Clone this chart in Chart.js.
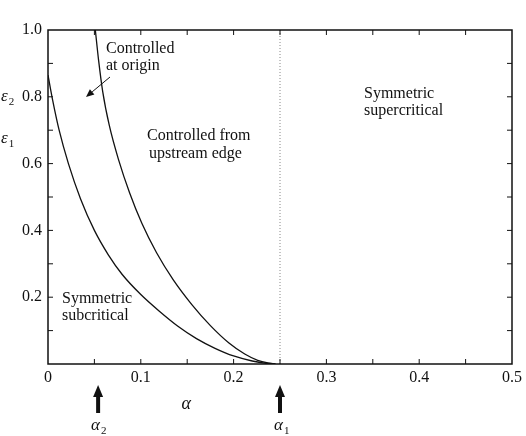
<!DOCTYPE html>
<html>
<head>
<meta charset="utf-8">
<script src="https://cdn.jsdelivr.net/npm/chart.js@4.4.1/dist/chart.umd.min.js"></script>
<style>
  body { margin: 0; background: #fff; }
  canvas { display: block; }
</style>
</head>
<body>
<canvas id="regimeChart" width="526" height="436"></canvas>
<script>
'use strict';

// boundary curves
var alphaInner = [0, 0.005, 0.012, 0.022, 0.035, 0.050, 0.065, 0.080, 0.100, 0.120, 0.140, 0.160, 0.180, 0.200, 0.220, 0.235, 0.245];
var epsInner   = [0.865, 0.790, 0.700, 0.600, 0.495, 0.400, 0.327, 0.268, 0.208, 0.158, 0.113, 0.076, 0.047, 0.024, 0.009, 0.002, 0];
var alphaOuter = [0.051, 0.0545, 0.059, 0.066, 0.076, 0.088, 0.101, 0.117, 0.135, 0.155, 0.175, 0.195, 0.212, 0.226, 0.237, 0.245];
var epsOuter   = [1.000, 0.910, 0.815, 0.715, 0.612, 0.512, 0.422, 0.333, 0.252, 0.178, 0.115, 0.063, 0.030, 0.011, 0.003, 0];

// critical values marked under the axis
var alpha1 = 0.25;
var alpha2 = 0.054;

// tick labels and tick marks
var xTickLabels = [0, 0.1, 0.2, 0.3, 0.4, 0.5];
var yTickLabels = [0.2, 0.4, 0.6, 0.8, 1.0];
var xTickMarks = [0.05, 0.1, 0.15, 0.2, 0.25, 0.3, 0.35, 0.4, 0.45];
var yTickMarks = [0.1, 0.2, 0.3, 0.4, 0.5, 0.6, 0.7, 0.8, 0.9];

var serif = "'Liberation Serif', 'DejaVu Serif', serif";

function toPoints(xs, ys) {
    var pts = [];
    for (var i = 0; i < xs.length; i++) {
        pts.push({ x: xs[i], y: ys[i] });
    }
    return pts;
}

// draws arrow with filled head from (x1,y1) to tip (x2,y2)
function arrow(ctx, x1, y1, x2, y2, width, headLen, headHalf) {
    var ang = Math.atan2(y2 - y1, x2 - x1);
    var bx = x2 - headLen * Math.cos(ang);
    var by = y2 - headLen * Math.sin(ang);
    ctx.beginPath();
    ctx.lineWidth = width;
    ctx.moveTo(x1, y1);
    ctx.lineTo(bx, by);
    ctx.stroke();
    ctx.beginPath();
    ctx.moveTo(x2, y2);
    ctx.lineTo(bx + headHalf * Math.sin(ang), by - headHalf * Math.cos(ang));
    ctx.lineTo(bx - headHalf * Math.sin(ang), by + headHalf * Math.cos(ang));
    ctx.closePath();
    ctx.fill();
}

// greek letter with a small subscript
function greekSub(ctx, letter, sub, x, y) {
    ctx.font = 'italic 17px ' + serif;
    ctx.textAlign = 'left';
    ctx.textBaseline = 'middle';
    ctx.fillText(letter, x, y);
    var w = ctx.measureText(letter).width;
    ctx.font = '11px ' + serif;
    ctx.fillText(sub, x + w + 1, y + 5);
}

var decorations = {
    id: 'decorations',
    afterDraw: function (chart) {
        var ctx = chart.ctx;
        var xs = chart.scales.x;
        var ys = chart.scales.y;
        var a = chart.chartArea;
        ctx.save();
        ctx.strokeStyle = '#111';
        ctx.fillStyle = '#111';

        // frame
        ctx.lineWidth = 1.5;
        ctx.strokeRect(a.left, a.top, a.right - a.left, a.bottom - a.top);

        // inward tick marks on all four sides
        ctx.lineWidth = 1;
        ctx.beginPath();
        for (var i = 0; i < xTickMarks.length; i++) {
            var px = xs.getPixelForValue(xTickMarks[i]);
            ctx.moveTo(px, a.bottom); ctx.lineTo(px, a.bottom - 5);
            ctx.moveTo(px, a.top); ctx.lineTo(px, a.top + 5);
        }
        for (var j = 0; j < yTickMarks.length; j++) {
            var py = ys.getPixelForValue(yTickMarks[j]);
            ctx.moveTo(a.left, py); ctx.lineTo(a.left + 5, py);
            ctx.moveTo(a.right, py); ctx.lineTo(a.right - 5, py);
        }
        ctx.stroke();

        // region labels
        ctx.font = '16px ' + serif;
        ctx.textAlign = 'left';
        ctx.textBaseline = 'middle';
        ctx.fillText('Controlled', 106, 49);
        ctx.fillText('at origin', 106, 66);
        ctx.fillText('Controlled from', 147, 136);
        ctx.fillText('upstream edge', 149, 154);
        ctx.fillText('Symmetric', 364, 94);
        ctx.fillText('supercritical', 364, 111);
        ctx.fillText('Symmetric', 62, 299);
        ctx.fillText('subcritical', 62, 316);

        // pointer to the narrow region
        arrow(ctx, 110, 77, 86, 97, 1, 8, 3.5);

        // axis symbols
        greekSub(ctx, '\u03b5', '2', 1, 97);
        greekSub(ctx, '\u03b5', '1', 1, 139);
        ctx.font = 'italic 18px ' + serif;
        ctx.textAlign = 'center';
        ctx.fillText('\u03b1', xs.getPixelForValue(0.149), 404);

        // critical alpha markers
        var p2 = xs.getPixelForValue(alpha2);
        var p1 = xs.getPixelForValue(alpha1);
        arrow(ctx, p2, 413, p2, 385, 4, 12, 5);
        arrow(ctx, p1, 413, p1, 385, 4, 12, 5);
        greekSub(ctx, '\u03b1', '2', p2 - 7, 426);
        greekSub(ctx, '\u03b1', '1', p1 - 6, 426);

        ctx.restore();
    }
};

var chartData = {
    datasets: [
        {
            label: 'epsilon 1',
            data: toPoints(alphaInner, epsInner),
            showLine: true,
            borderColor: '#111',
            borderWidth: 1.3,
            pointRadius: 0,
            cubicInterpolationMode: 'monotone'
        },
        {
            label: 'epsilon 2',
            data: toPoints(alphaOuter, epsOuter),
            showLine: true,
            borderColor: '#111',
            borderWidth: 1.3,
            pointRadius: 0,
            cubicInterpolationMode: 'monotone'
        },
        {
            label: 'alpha 1',
            data: [{ x: alpha1, y: 0 }, { x: alpha1, y: 1 }],
            showLine: true,
            borderColor: '#888',
            borderWidth: 1,
            borderDash: [1, 2],
            pointRadius: 0
        }
    ]
};

var chart = new Chart(document.getElementById('regimeChart'), {
    type: 'scatter',
    data: chartData,
    options: {
        responsive: false,
        animation: false,
        devicePixelRatio: 1,
        layout: { padding: { top: 30, right: 8, left: 0, bottom: 0 } },
        plugins: {
            legend: { display: false },
            tooltip: { enabled: false }
        },
        scales: {
            x: {
                type: 'linear',
                min: 0,
                max: 0.5,
                grid: { display: false, drawTicks: false },
                border: { display: false },
                afterBuildTicks: function (scale) {
                    scale.ticks = xTickLabels.map(function (v) { return { value: v }; });
                },
                afterFit: function (scale) { scale.height = 72; },
                ticks: {
                    padding: 4,
                    maxRotation: 0,
                    color: '#111',
                    font: { family: serif, size: 16 },
                    callback: function (v) { return v === 0 ? '0' : v.toFixed(1); }
                }
            },
            y: {
                type: 'linear',
                min: 0,
                max: 1,
                grid: { display: false, drawTicks: false },
                border: { display: false },
                afterBuildTicks: function (scale) {
                    scale.ticks = yTickLabels.map(function (v) { return { value: v }; });
                },
                afterFit: function (scale) { scale.width = 48; },
                ticks: {
                    padding: 6,
                    color: '#111',
                    font: { family: serif, size: 16 },
                    callback: function (v) { return v.toFixed(1); }
                }
            }
        }
    },
    plugins: [decorations]
});
</script>
</body>
</html>
